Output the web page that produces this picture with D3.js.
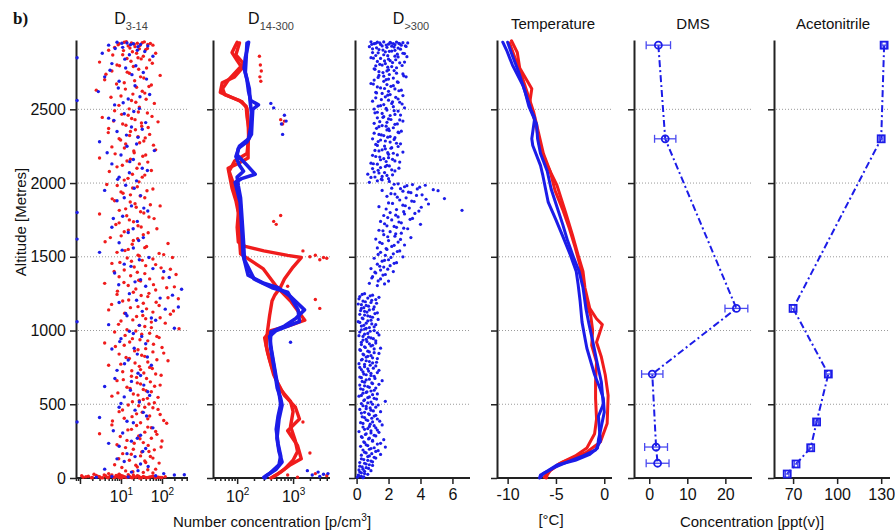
<!DOCTYPE html>
<html>
<head>
<meta charset="utf-8">
<script src="https://cdn.jsdelivr.net/npm/d3@7"></script>
<style>
  body { margin: 0; background: #fff; }
  text { font-family: "Liberation Sans", Arial, sans-serif; fill: #111; }
</style>
</head>
<body>
<svg id="chart" width="895" height="531"></svg>
<script>
// altitude ticks shared by every panel
const altTicks = [0, 500, 1000, 1500, 2000, 2500];

// D3-14 : [number concentration, altitude]
const d314Red = [
  [12,2955],[18,2950],[25,2948],[9,2945],[33,2952],[45,2940],[15,2930],[22,2925],[60,2935],[7,2920],[28,2910],[40,2905],[5,2900],[19,2890],[70,2880],[11,2870],[35,2860],[26,2850],[14,2845],[50,2835],
  [3,2820],[8,2800],[20,2790],[42,2780],[6,2760],[16,2745],[90,2730],[30,2720],[4,2700],[12,2680],[55,2665],[24,2650],[2.5,2630],[38,2610],[10,2590],[18,2560],[65,2540],[28,2515],
  [7,2490],[44,2475],[15,2460],[3.5,2445],[22,2430],[80,2415],[11,2400],[32,2385],[5,2370],[17,2350],[50,2330],[26,2315],[9,2300],[36,2285],[13,2265],[6,2245],[70,2225],[21,2205],[40,2190],[3,2170],[14,2150],[28,2130],[8,2110],[55,2085],[19,2060],[33,2040],[12,2020],
  [4.5,1990],[25,1975],[60,1960],[10,1940],[17,1920],[38,1900],[7,1880],[22,1860],[90,1845],[13,1825],[30,1805],[3,1790],[48,1770],[16,1750],[9,1730],[26,1710],[75,1690],[12,1670],[35,1650],[5.5,1630],[20,1610],[140,1590],[42,1570],[15,1550],[8,1530],[110,1515],[28,1505],
  [180,1495],[60,1485],[18,1470],[6,1455],[40,1440],[95,1425],[12,1410],[25,1395],[220,1380],[9,1365],[50,1350],[30,1335],[4,1320],[15,1305],[130,1290],[70,1275],[20,1260],[8,1245],[45,1230],[250,1215],[11,1200],[35,1185],[85,1170],[17,1155],[5,1140],[60,1125],[160,1110],[24,1095],[40,1080],[10,1065],[120,1050],[28,1035],[55,1020],[14,1005],
  [7,990],[32,975],[75,960],[19,945],[45,930],[4,915],[12,900],[100,885],[26,870],[60,855],[9,840],[38,825],[16,810],[140,795],[22,780],[5,765],[50,750],[30,735],[11,720],[70,705],[18,690],[42,675],[8,660],[25,645],[90,630],[14,615],[35,600],[55,585],[20,570],[6,555],[44,540],[28,525],[65,510],
  [15,495],[38,480],[80,465],[9,450],[24,435],[50,420],[12,405],[110,390],[30,375],[6,360],[45,345],[18,330],[70,315],[3,300],[27,285],[55,270],[14,255],[35,240],[8,225],[95,210],[20,195],[48,180],[11,165],[30,150],[60,135],[16,120],[40,105],[7,90],[25,75],[70,60],[13,48],[35,38],[5,30],
  [1.2,5],[1.6,12],[2,3],[2.5,18],[3,8],[3.6,2],[4.2,15],[5,6],[6,20],[7,4],[8,10],[9.5,2],[11,14],[13,6],[15,22],[18,3],[21,9],[25,16],[30,4],[35,11],[42,2],[50,7],[60,13],[75,5],[90,3],[2.2,25],[4.8,1],[10,18],[28,0],[16,12],
  [13.5,2958],[21,2942],[37,2957],[8.5,2937],[52,2946],[16.5,2915],[29,2932],[44,2912],[11.5,2898],[24,2880],[6.3,2868],[31,2842],[17.5,2826],[58,2812],[9.2,2795],[27,2772],[14.2,2752],[4.3,2738],[36,2712],[21.5,2694],[7.8,2672],[48,2655],[12.8,2637],[33,2622],[19.5,2603],[5.7,2582],[41,2568],[23,2548],[8.9,2527],[15.8,2503],
  [26.5,2482],[10.4,2466],[57,2452],[18.2,2438],[6.6,2421],[31.5,2407],[13.2,2392],[46,2377],[22.5,2361],[4.9,2342],[16.2,2322],[39,2306],[9.8,2292],[28.5,2273],[62,2257],[12.1,2238],[20.5,2217],[7.2,2198],[34,2182],[17,2161],[45,2142],[10.8,2121],[24.5,2100],[5.2,2078],[38,2054],[14.8,2032],[27.5,2008],
  [8.1,1983],[19.2,1966],[43,1948],[11.2,1931],[29.5,1912],[6.1,1893],[16.8,1872],[52,1853],[23.5,1836],[9.1,1815],[36,1797],[13.8,1778],[64,1759],[20.2,1738],[7.5,1719],[31,1702],[15.1,1681],[46,1663],[10.1,1642],[25.5,1623],[4.1,1602],[18.8,1585],[38,1562],[12.5,1542],[85,1523],[26,1511],
  [14.2,1492],[33,1476],[9.4,1462],[70,1447],[21,1431],[160,1416],[6.8,1401],[38,1386],[17.2,1371],[105,1356],[27,1341],[11.8,1326],[62,1311],[200,1296],[23,1282],[8.2,1267],[48,1252],[31,1237],[140,1222],[15.4,1207],[72,1192],[5.9,1177],[26,1162],[42,1147],[190,1132],[12.3,1117],[34,1102],[90,1087],[19.4,1072],[55,1057],[8.7,1042],[38,1027],[260,1012],
  [23,997],[50,982],[12.6,967],[85,952],[29,937],[16.3,922],[62,907],[7.3,892],[40,877],[21.5,862],[110,847],[32,832],[13.3,817],[75,802],[45,787],[9.9,772],[28,757],[58,742],[18.3,727],[36,712],[95,697],[24,682],[11.4,667],[52,652],[30,637],[66,622],[16.7,607],[41,592],[8.4,577],[26,562],[80,547],[35,532],[19,517],[48,502],
  [27,490],[60,476],[10.9,461],[33,446],[90,431],[18.6,416],[45,401],[6.2,386],[130,371],[24,356],[55,341],[14.7,326],[38,311],[75,296],[9.6,281],[29,266],[100,251],[21,236],[46,221],[12.9,206],[65,191],[32,176],[17.8,161],[52,146],[8.8,131],[38,116],[85,101],[23,86],[10.5,71],[45,56],[19.5,43],[60,34],[9,26],
  [1.4,8],[1.9,2],[2.8,11],[3.3,1],[4.5,6],[5.5,13],[6.6,3],[7.6,17],[8.8,5],[10.5,1],[12,9],[14,3],[16.5,7],[19,1],[23,5],[27,12],[32,2],[38,6],[46,3],[55,9],[68,2],[82,6],[100,3],[120,8],[1.1,15],[3.9,21],[9,24],[20,20]
];
const d314Blue = [
  [0.85,2850],[0.85,2560],[0.85,1800],[0.85,1620],[0.85,1060],[0.85,380],
  [8,2955],[14,2950],[20,2945],[30,2940],[5,2935],[45,2930],[11,2920],[25,2900],[3.5,2880],[16,2870],[60,2860],
  [6,2810],[13,2780],[35,2750],[4,2720],[9,2690],[22,2660],[2.8,2620],[50,2600],[15,2570],[7,2530],[28,2505],
  [12,2470],[5,2440],[40,2410],[18,2380],[8,2350],[26,2310],[3,2280],[14,2250],[65,2220],[10,2190],[20,2160],[6,2130],[33,2100],[16,2070],[9,2040],[24,2015],
  [13,1985],[4,1950],[30,1915],[8,1880],[18,1845],[45,1810],[11,1775],[25,1740],[6,1700],[15,1665],[35,1630],[9,1595],[20,1560],[3,1530],
  [28,1480],[12,1450],[60,1420],[7,1390],[150,1360],[22,1330],[40,1300],[300,1280],[16,1250],[90,1220],[9,1190],[250,1160],[33,1130],[14,1100],[70,1070],[5,1040],[200,1015],
  [20,980],[10,945],[40,910],[6,875],[25,840],[15,800],[55,765],[8,730],[30,695],[18,655],[4,620],[45,585],[12,550],[28,515],
  [9,480],[35,445],[3,410],[20,375],[60,340],[11,305],[25,270],[5,235],[40,200],[14,165],[8,130],[30,95],[4,60],[18,40],[200,20],[350,22],[6,10],[2.5,5],
  [10.5,2948],[17,2938],[26,2925],[7.2,2912],[38,2892],[12.4,2840],[23,2795],[5.4,2765],[18.5,2735],[42,2705],[8.6,2645],[29,2585],[11.3,2545],[20.5,2485],[6.7,2425],[33,2365],[13.6,2325],[24,2265],[4.6,2205],[16.4,2145],[44,2085],[8.3,2025],[21,1965],[12,1900],[36,1830],[6.5,1760],[19.8,1690],[27,1610],[10.7,1545],[48,1495],[17.5,1435],[110,1400],[30,1345],[8.8,1310],[180,1240],[24,1205],[120,1145],[13,1115],[55,1085],[28,1035],[16,995],[32,960],[9.3,925],[21,880],[44,820],[12.2,775],[26,710],[7.1,675],[36,630],[17,595],[50,560],[10,505],[22,460],[42,420],[14,385],[6.5,320],[30,290],[18,250],[9,215],[34,180],[22,145],[12,112],[46,78],[26,50],[110,30],[70,15],[15,7]
];

// D14-300 : profile traces and stray points
const d14RedA = [[100,2955],[90,2920],[81,2885],[100,2830],[123,2780],[90,2720],[54,2680],[50,2615],[80,2580],[123,2550],[150,2507],[157,2420],[160,2325],[157,2250],[157,2170],[100,2130],[69,2100],[75,2030],[81,1965],[95,1880],[105,1800],[100,1700],[105,1600],[140,1570],[300,1540],[800,1510],[1400,1495],[1000,1430],[700,1350],[590,1290],[470,1240],[420,1200],[380,1100],[350,1000],[330,900],[380,800],[450,700],[600,600],[900,520],[1000,450],[900,350],[1100,250],[1200,180],[1000,120],[700,60],[500,20],[400,0]];
const d14RedB = [[110,2950],[95,2870],[130,2810],[70,2700],[55,2640],[60,2600],[110,2560],[145,2520],[150,2450],[165,2350],[150,2200],[90,2150],[72,2080],[85,2000],[100,1900],[108,1760],[110,1620],[115,1520],[200,1460],[290,1420],[500,1300],[900,1200],[1620,1070],[800,1030],[400,1000],[310,950],[350,850],[420,750],[520,650],[700,560],[1100,480],[1300,400],[800,320],[1200,220],[1400,130],[900,90],[600,40],[450,10]];
const d14BlueA = [[160,2955],[150,2900],[140,2850],[133,2780],[150,2700],[160,2620],[175,2560],[240,2530],[190,2500],[185,2420],[180,2330],[150,2280],[105,2235],[100,2190],[150,2120],[210,2060],[120,2030],[92,2005],[100,1950],[113,1870],[118,1760],[123,1645],[128,1510],[157,1375],[300,1320],[540,1290],[900,1230],[1600,1140],[1100,1080],[700,1030],[400,990],[390,900],[420,830],[470,720],[520,610],[600,540],[635,495],[560,400],[515,270],[560,180],[635,108],[500,60],[420,40],[330,15],[316,0]];
const d14BlueB = [[150,2950],[145,2850],[140,2750],[165,2640],[170,2560],[180,2480],[175,2380],[160,2300],[110,2250],[95,2180],[110,2120],[130,2080],[100,2040],[105,1980],[115,1900],[120,1800],[125,1700],[130,1600],[135,1480],[200,1350],[420,1290],[800,1260],[1230,1140],[1300,1060],[500,1000],[380,960],[410,870],[450,780],[500,680],[560,580],[600,500],[540,420],[500,330],[540,230],[600,150],[560,90],[380,30],[300,5]];
const d14RedDots = [[250,2860],[260,2800],[270,2760],[255,2720],[265,2690],[600,2430],[650,2400],[700,2420],[1500,1540],[2500,1510],[3500,1495],[4000,1490],[3000,1480],[2000,1500],[600,1780],[450,1740],[500,1720],[800,1300],[2500,1210],[3000,1150],[1500,380],[2000,170],[800,20],[1200,5],[2500,30],[4000,15]];
const d14BlueDots = [[400,2540],[450,2510],[700,2460],[750,2420],[620,2400],[650,2330],[900,920],[2800,40],[3500,25],[4200,30],[3000,10],[2200,20],[1800,50]];

// D>300 : [number concentration, altitude]
const d300Blue = [
  [0.9,2958],[1.3,2955],[1.7,2957],[2.1,2954],[2.5,2956],[2.9,2952],[3.2,2950],[1.1,2945],[1.5,2940],[2.0,2942],[2.4,2938],[2.8,2935],[0.8,2925],[1.9,2920],[2.6,2915],[1.4,2905],[2.2,2895],[1.0,2885],[3.0,2878],[1.7,2870],[2.4,2860],[0.9,2850],[2.0,2840],[1.3,2825],[2.7,2815],[1.6,2800],[2.2,2790],[1.1,2775],[1.9,2760],[2.5,2745],[1.4,2730],[3.1,2720],[2.0,2705],[1.7,2690],[0.9,2675],[2.3,2660],[1.5,2645],[2.8,2630],[1.2,2615],[2.1,2600],[1.8,2585],[2.6,2570],[1.0,2555],[2.2,2540],[1.5,2525],[3.0,2510],[1.9,2495],[1.3,2480],[2.4,2465],[1.7,2450],[2.0,2435],[2.9,2420],[1.1,2405],[1.6,2390],[2.3,2375],[1.9,2360],[2.6,2345],[1.4,2330],[2.1,2315],[1.0,2300],[1.8,2285],[2.5,2270],[1.3,2255],[2.2,2240],[1.6,2225],[2.9,2210],[2.0,2195],[1.2,2180],[1.7,2165],[2.4,2150],[0.9,2135],[1.9,2120],[1.5,2105],[2.2,2090],[1.1,2075],[0.7,2060],[1.6,2045],[2.0,2030],[1.3,2015],[0.8,2005],
  [1.2,2948],[2.3,2946],[2.7,2944],[1.6,2930],[2.2,2928],[3.1,2926],[1.0,2910],[2.4,2900],[1.8,2890],[2.9,2880],[1.2,2865],[2.6,2855],[1.5,2845],[2.1,2830],[3.0,2820],[1.8,2810],[1.2,2795],[2.5,2782],[2.0,2768],[1.4,2755],[2.9,2740],[1.7,2725],[2.3,2712],[1.1,2698],[2.6,2683],[1.9,2668],[1.3,2652],[2.4,2638],[2.0,2622],[1.6,2608],[2.9,2593],[1.2,2578],[2.0,2562],[2.7,2548],[1.7,2532],[2.3,2518],[1.1,2502],[2.6,2488],[1.6,2472],[2.1,2458],[1.3,2442],[2.7,2428],[1.9,2412],[2.4,2398],[1.4,2382],[2.0,2368],[2.8,2352],[1.1,2338],[1.7,2322],[2.4,2308],[1.5,2292],[2.1,2278],[1.2,2262],[2.6,2248],[1.8,2232],[1.4,2218],[2.3,2202],[1.0,2188],[2.0,2172],[1.5,2158],[2.7,2142],[1.3,2128],[1.8,2112],[1.0,2098],[2.4,2082],[1.4,2068],[1.9,2052],[0.9,2038],[1.6,2022],
  [1.45,2951],[2.15,2949],[2.65,2947],[0.95,2941],[1.85,2936],[3.05,2931],[2.35,2922],[1.25,2917],[2.75,2908],[1.65,2902],[2.05,2893],[1.35,2883],[2.55,2874],[1.95,2864],[3.15,2857],[1.05,2847],[2.45,2836],[1.75,2828],[2.25,2817],[1.45,2805],[2.85,2797],[1.95,2786],[1.15,2771],[2.35,2763],[1.65,2749],[2.05,2736],[2.95,2727],[1.35,2716],[1.85,2701],[2.55,2686],[1.05,2671],[2.15,2656],[1.75,2641],[2.65,2626],[1.25,2611],[1.95,2596],[2.45,2581],[1.55,2566],[2.25,2551],[2.85,2536],[1.35,2521],[1.85,2506],[2.35,2491],[1.15,2476],[2.75,2461],[1.65,2446],[2.15,2431],[1.45,2416],[2.55,2401],[1.85,2386],[1.25,2371],[2.05,2356],[2.65,2341],[1.55,2326],[1.95,2311],[2.35,2296],[1.35,2281],[2.75,2266],[1.75,2251],[2.15,2236],[1.15,2221],[1.95,2206],[2.55,2191],[1.45,2176],[2.25,2161],[1.85,2146],[1.05,2131],[2.05,2116],[2.65,2101],[1.35,2086],[1.75,2071],[2.25,2056],[1.15,2041],[1.55,2026],[2.05,2011],
  [2.6,1995],[3.5,1990],[4.3,1985],[3.0,1975],[2.2,1965],[3.8,1960],[4.8,1955],[1.6,1950],[2.9,1945],[3.4,1935],[2.4,1925],[4.1,1920],[1.9,1910],[3.1,1900],[5.5,1895],[2.7,1885],[3.6,1875],[2.0,1865],[4.5,1858],[2.9,1850],[1.4,1840],[3.3,1830],[2.5,1820],[6.6,1815],[3.9,1810],[2.1,1800],[3.0,1790],[1.7,1780],[2.6,1770],[3.5,1760],[2.2,1750],[1.5,1740],[2.8,1730],[4.0,1720],[1.9,1710],[2.5,1700],
  [2.35,1992],[3.15,1982],[3.95,1972],[2.75,1962],[5.1,1948],[3.25,1938],[2.15,1928],[3.75,1916],[2.55,1904],[4.35,1890],[3.45,1878],[2.25,1862],[3.05,1846],[4.05,1836],[1.85,1824],[2.95,1806],[3.65,1794],[2.45,1782],[1.95,1766],[3.35,1754],[2.65,1736],[1.75,1724],[2.35,1706],[2.95,1694],[1.65,1676],[2.45,1656],[1.95,1636],[2.75,1618],[1.45,1598],[2.35,1578],[1.85,1556],[2.55,1536],[1.35,1516],[2.15,1496],[1.75,1476],[2.35,1456],[1.45,1436],[1.95,1416],[1.15,1396],[1.65,1376],[0.95,1356],[1.35,1336],[1.75,1316],
  [3.2,1690],[1.4,1680],[2.1,1670],[2.8,1660],[1.7,1650],[2.4,1640],[3.4,1630],[1.2,1620],[2.0,1610],[2.6,1600],[1.6,1590],[3.0,1580],[2.2,1570],[1.3,1560],[1.9,1550],[2.7,1540],[1.5,1530],[2.3,1520],[1.8,1510],[2.9,1500],[1.1,1490],[2.0,1480],[1.6,1470],[2.5,1460],[1.3,1450],[2.1,1440],[1.7,1430],[0.9,1420],[1.5,1410],[2.3,1400],[1.2,1390],[1.8,1380],[1.0,1365],[1.5,1350],[2.0,1335],[0.8,1320],[1.3,1305],
  [0.5,1250],[1.0,1240],[0.2,1230],[0.7,1220],[1.2,1210],[0.4,1200],[0.9,1190],[0.1,1180],[0.6,1170],[1.1,1160],[0.3,1150],[0.8,1140],[0.5,1130],[1.3,1120],[0.2,1110],[0.7,1100],[1.0,1090],[0.4,1080],[0.9,1070],[0.1,1060],[0.6,1050],[1.2,1040],[0.3,1030],[0.8,1020],[0.5,1010],[1.1,1000],[0.2,990],[0.7,980],[1.4,970],[0.4,960],[0.9,950],[0.6,940],[1.2,930],[0.3,920],[0.8,910],[1.0,900],[0.5,890],[1.5,880],[0.2,870],[0.7,860],[1.1,850],[0.4,840],[0.9,830],[0.6,820],[1.3,810],[0.3,800],[0.8,790],[1.0,780],[0.5,770],[1.2,760],[0.2,750],[0.7,740],[1.4,730],[0.4,720],[0.9,710],[0.6,700],[1.1,690],[0.3,680],[0.8,670],[1.6,660],[0.5,650],[1.0,640],[0.2,630],[0.7,620],[1.2,610],[0.4,600],[0.9,590],[0.6,580],[1.3,570],[0.3,560],[0.8,550],[1.1,540],[0.5,530],[1.8,520],[0.7,510],[1.0,500],[0.4,490],[1.2,480],[0.6,470],[0.9,460],[1.5,450],[0.3,440],[0.8,430],[1.1,420],[0.5,410],[1.3,400],[0.7,390],[1.0,380],[0.4,370],[1.6,360],[0.8,350],[1.2,340],[0.5,330],[0.9,320],[1.4,310],[0.6,300],[1.1,290],[0.3,280],[0.8,270],[1.7,260],[1.0,250],[0.5,240],[1.3,230],[0.7,220],[1.8,210],[0.9,200],[0.4,190],[1.2,180],[0.6,170],[1.5,160],[0.8,150],[1.1,140],[0.3,130],[0.7,120],[1.0,110],[0.5,100],[0.8,90],[0.2,80],[0.6,70],[0.4,60],[0.9,50],[0.2,40],[0.5,30],[0.1,20],[0.3,12],[0.05,5],[0.4,2],
  [0.35,1245],[0.85,1235],[1.4,1225],[0.15,1215],[0.95,1205],[0.55,1195],[1.25,1185],[0.3,1175],[0.75,1165],[0.45,1155],[1.05,1145],[0.25,1135],[0.65,1125],[1.15,1115],[0.5,1105],[0.85,1095],[0.35,1085],[1.35,1075],[0.7,1065],[0.2,1055],[0.95,1045],[0.45,1035],[1.1,1025],[0.6,1015],[0.3,1005],[0.85,995],[1.3,985],[0.5,975],[0.15,965],[0.75,955],[1.05,945],[0.4,935],[0.65,925],[1.2,915],[0.3,905],[0.9,895],[0.55,885],[1.1,875],[0.25,865],[0.8,855],[1.4,845],[0.45,835],[0.7,825],[1.0,815],[0.35,805],[0.6,795],[1.25,785],[0.15,775],[0.85,765],[0.5,755],[1.05,745],[0.3,735],[0.75,725],[1.3,715],[0.45,705],[0.9,695],[0.2,685],[1.15,675],[0.6,665],[0.35,655],[0.95,645],[1.4,635],[0.5,625],[0.8,615],[0.25,605],[1.1,595],[0.65,585],[0.4,575],[1.0,565],[0.15,555],[0.7,545],[1.25,535],[0.45,525],[0.9,515],[0.3,505],[1.35,495],[0.6,485],[0.85,475],[0.2,465],[1.05,455],[0.5,445],[0.75,435],[1.2,425],[0.35,415],[0.95,405],[0.6,395],[1.45,385],[0.25,375],[0.85,365],[1.1,355],[0.4,345],[0.7,335],[1.3,325],[0.15,315],[0.9,305],[0.55,295],[1.2,285],[0.35,275],[0.75,265],[1.0,255],[0.45,245],[1.5,235],[0.6,225],[0.25,215],[1.1,205],[0.8,195],[1.35,185],[0.5,175],[0.95,165],[0.3,155],[0.7,145],[1.2,135],[0.45,125],[0.9,115],[0.2,105],[0.6,95],[1.0,85],[0.35,75],[0.75,65],[0.15,55],[0.5,45],[0.3,35],[0.7,25],[0.15,15],[0.45,8]
];

// Temperature profiles [degC, altitude]
const tempRed1 = [[-9.6,2965],[-9.0,2885],[-8.75,2780],[-7.5,2640],[-7.7,2550],[-7.0,2370],[-6.7,2255],[-5.9,2120],[-4.9,1985],[-4.0,1800],[-3.3,1650],[-2.7,1510],[-2.2,1400],[-2.0,1290],[-1.5,1150],[-0.8,1080],[-0.2,1040],[-0.5,980],[-0.8,920],[-0.3,820],[0.1,700],[0.4,560],[0.3,370],[-0.4,245],[-1.8,176],[-4.3,108],[-5.6,50],[-5.9,20],[-6.0,0]];
const tempRed2 = [[-9.8,2950],[-9.3,2860],[-8.6,2740],[-8.0,2620],[-7.3,2480],[-6.8,2340],[-6.3,2200],[-5.6,2080],[-5.1,1950],[-4.3,1820],[-3.6,1690],[-3.0,1560],[-2.5,1440],[-2.2,1320],[-1.9,1200],[-1.4,1100],[-1.2,1000],[-1.3,900],[-0.8,786],[-0.9,650],[-0.9,540],[-0.8,400],[-1.0,300],[-1.8,203],[-3.0,150],[-4.6,100],[-5.8,40],[-6.2,5]];
const tempBlue1 = [[-10.5,2955],[-10.1,2900],[-9.5,2800],[-8.4,2660],[-7.6,2500],[-7.2,2440],[-7.5,2300],[-7.4,2255],[-6.6,2120],[-6.35,2050],[-5.8,1870],[-5.0,1750],[-4.3,1640],[-3.5,1510],[-2.9,1400],[-2.7,1310],[-2.5,1200],[-2.3,1057],[-2.0,950],[-1.8,880],[-1.0,700],[-0.4,600],[-0.1,540],[0.0,447],[-0.3,350],[-0.6,260],[-0.7,203],[-1.5,160],[-3.0,120],[-4.9,88],[-5.8,50],[-6.6,20],[-6.7,0]];
const tempBlue2 = [[-10.0,2955],[-9.6,2880],[-8.9,2760],[-8.2,2620],[-7.8,2520],[-7.0,2400],[-6.9,2300],[-6.6,2200],[-5.9,2080],[-5.5,1960],[-5.0,1860],[-4.3,1720],[-3.8,1610],[-3.2,1500],[-2.6,1400],[-2.2,1290],[-1.9,1150],[-1.6,1050],[-1.2,930],[-0.8,800],[-0.3,650],[-0.1,500],[-0.6,420],[-0.5,330],[-0.4,250],[-0.9,190],[-2.2,150],[-3.8,110],[-5.2,70],[-6.3,30],[-6.6,5]];

// DMS and acetonitrile [value, altitude, error]
const dms = [[2.4,2935,3.2],[4.2,2300,2.8],[22.9,1150,3.0],[0.8,705,2.8],[1.8,210,3.0],[2.2,100,3.0]];
const acetonitrile = [[132,2935,1.5],[130,2300,1.2],[70,1150,1.2],[94,705,1.5],[86,380,1.2],[82,205,1.2],[72,95,1.2],[66,27,1.2]];

const svg = d3.select('#chart');
const red = '#f01c1c', blue = '#1c1ce8', lightBlue = '#4a4af0';
const y = d3.scaleLinear().domain([0, 2970]).range([478, 40]);

svg.append('rect').attr('width', 895).attr('height', 531).attr('fill', '#fff');

// one panel = its own y axis, bottom axis and dotted grid
function drawPanel(x, x0, x1, opts) {
  const g = svg.append('g');
  g.selectAll('.grid').data(altTicks.slice(1)).join('line')
    .attr('x1', x0 + 2).attr('x2', x1)
    .attr('y1', d => y(d)).attr('y2', d => y(d))
    .attr('stroke', '#9a9a9a').attr('stroke-width', 1)
    .attr('stroke-dasharray', '1,2');

  const yAxis = d3.axisLeft(y).tickValues(altTicks).tickSize(6).tickSizeOuter(0).tickPadding(4)
    .tickFormat(opts.yLabels ? d => String(d) : () => '');
  const yg = g.append('g').attr('transform', `translate(${x0},0)`).call(yAxis);

  const xAxis = d3.axisBottom(x).tickSizeOuter(0).tickSize(6).tickPadding(5);
  if (opts.log) {
    const [a, b] = x.domain();
    const vals = [];
    for (let e = Math.floor(Math.log10(a)); e <= Math.ceil(Math.log10(b)); e++)
      for (let m = 1; m < 10; m++) { const v = m * Math.pow(10, e); if (v >= a && v <= b) vals.push(v); }
    xAxis.tickValues(vals).tickFormat(() => '');
  } else {
    xAxis.tickValues(opts.ticks).tickFormat(d => String(d));
  }
  const xg = g.append('g').attr('transform', `translate(0,${y(0)})`).call(xAxis);

  if (opts.log) {
    xg.selectAll('.tick').each(function(d) {
      const e = Math.log10(d);
      const major = Math.abs(e - Math.round(e)) < 1e-9;
      d3.select(this).select('line').attr('y2', major ? 6 : 3);
      if (major && opts.labels.includes(d)) {
        const t = d3.select(this).append('text').attr('y', 24).attr('text-anchor', 'middle')
          .attr('fill', '#111').style('font-size', '16px');
        t.append('tspan').text('10');
        t.append('tspan').attr('dy', -7).style('font-size', '10px').text(Math.round(e));
      }
    });
  }

  [yg, xg].forEach(a => {
    a.select('.domain').attr('stroke', '#222').attr('stroke-width', 2);
    a.selectAll('.tick line').attr('stroke', '#222').attr('stroke-width', 1.5);
    a.selectAll('.tick text').style('font-size', '16px').attr('fill', '#111');
  });
  xg.select('.domain').attr('d', `M${x0},0H${x1}`);
  return g;
}

function dots(g, x, data, color, r) {
  g.append('g').selectAll('circle').data(data).join('circle')
    .attr('cx', d => x(d[0])).attr('cy', d => y(d[1])).attr('r', r || 1.5)
    .attr('fill', color);
}

function trace(g, x, data, color, w) {
  const line = d3.line().x(d => x(d[0])).y(d => y(d[1]));
  g.append('path').datum(data).attr('d', line)
    .attr('fill', 'none').attr('stroke', color).attr('stroke-width', w)
    .attr('stroke-linejoin', 'round').attr('stroke-linecap', 'round');
}

// panel 1: D3-14
const x1s = d3.scaleLog().domain([0.8, 430]).range([76, 188]);
const p1 = drawPanel(x1s, 76, 188, { log: true, labels: [10, 100], yLabels: true });
dots(p1, x1s, d314Red, red, 1.7);
dots(p1, x1s, d314Blue, blue, 1.7);

// panel 2: D14-300
const x2s = d3.scaleLog().domain([37, 4570]).range([213, 330]);
const p2 = drawPanel(x2s, 213, 330, { log: true, labels: [100, 1000] });
dots(p2, x2s, d14RedDots, red, 1.7);
trace(p2, x2s, d14RedA, red, 3.4);
trace(p2, x2s, d14RedB, red, 3.4);
dots(p2, x2s, d14BlueDots, blue, 1.7);
trace(p2, x2s, d14BlueA, blue, 3.6);
trace(p2, x2s, d14BlueB, blue, 3.6);

// panel 3: D>300
const x3s = d3.scaleLinear().domain([-0.1, 7.1]).range([355, 470]);
const p3 = drawPanel(x3s, 355, 470, { ticks: [0, 2, 4, 6] });
dots(p3, x3s, d300Blue, blue, 1.6);

// panel 4: temperature
const x4s = d3.scaleLinear().domain([-11.1, 0.8]).range([497, 612]);
const p4 = drawPanel(x4s, 497, 612, { ticks: [-10, -5, 0] });
trace(p4, x4s, tempRed1, red, 3);
trace(p4, x4s, tempRed2, red, 3);
trace(p4, x4s, tempBlue1, blue, 3);
trace(p4, x4s, tempBlue2, blue, 3);

// panels 5/6: DMS and acetonitrile with error bars
function profile(g, x, data, marker) {
  const line = d3.line().x(d => x(d[0])).y(d => y(d[1]));
  g.append('path').datum(data).attr('d', line).attr('fill', 'none')
    .attr('stroke', blue).attr('stroke-width', 2).attr('stroke-dasharray', '7,3,2,3');
  const eb = g.append('g').attr('stroke', lightBlue).attr('stroke-width', 1.3);
  data.forEach(d => {
    const yy = y(d[1]), xa = x(d[0] - d[2]), xb = x(d[0] + d[2]);
    eb.append('line').attr('x1', xa).attr('x2', xb).attr('y1', yy).attr('y2', yy);
    eb.append('line').attr('x1', xa).attr('x2', xa).attr('y1', yy - 4).attr('y2', yy + 4);
    eb.append('line').attr('x1', xb).attr('x2', xb).attr('y1', yy - 4).attr('y2', yy + 4);
  });
  const m = g.append('g').attr('fill', 'none').attr('stroke', blue).attr('stroke-width', 1.8);
  if (marker === 'circle') {
    m.selectAll('circle').data(data).join('circle')
      .attr('cx', d => x(d[0])).attr('cy', d => y(d[1])).attr('r', 3.5);
  } else {
    m.selectAll('rect').data(data).join('rect')
      .attr('x', d => x(d[0]) - 3.5).attr('y', d => y(d[1]) - 3.5)
      .attr('width', 7).attr('height', 7);
  }
}

const x5s = d3.scaleLinear().domain([-4, 27]).range([634, 752]);
const p5 = drawPanel(x5s, 634, 752, { ticks: [0, 10, 20] });
profile(p5, x5s, dms, 'circle');

const x6s = d3.scaleLinear().domain([57, 136]).range([774, 890]);
const p6 = drawPanel(x6s, 774, 890, { ticks: [70, 100, 130] });
profile(p6, x6s, acetonitrile, 'square');

// titles
function subTitle(cx, main, sub) {
  const t = svg.append('text').attr('x', cx).attr('y', 24).attr('text-anchor', 'middle')
    .style('font-size', '16px');
  t.append('tspan').text(main);
  t.append('tspan').attr('dy', 6).style('font-size', '11px').attr('fill', '#444').text(sub);
}
subTitle(131, 'D', '3-14');
subTitle(271, 'D', '14-300');
subTitle(411, 'D', '>300');
[['Temperature', 553], ['DMS', 693], ['Acetonitrile', 833]].forEach(([s, cx]) => {
  svg.append('text').attr('x', cx).attr('y', 29).attr('text-anchor', 'middle')
    .style('font-size', '15px').text(s);
});

svg.append('text').attr('x', 13).attr('y', 24)
  .style('font-family', '"Liberation Serif", "Times New Roman", serif')
  .style('font-weight', 'bold').style('font-size', '17px').text('b)');

svg.append('text').attr('transform', 'translate(26,222) rotate(-90)')
  .attr('text-anchor', 'middle').style('font-size', '15px').text('Altitude [Metres]');

const xl = svg.append('text').attr('x', 272).attr('y', 527).attr('text-anchor', 'middle')
  .style('font-size', '15px');
xl.append('tspan').text('Number concentration [p/cm');
xl.append('tspan').attr('dy', -6).style('font-size', '10px').text('3');
xl.append('tspan').attr('dy', 6).text(']');

svg.append('text').attr('x', 551).attr('y', 525).attr('text-anchor', 'middle')
  .style('font-size', '15px').text('[°C]');
svg.append('text').attr('x', 752).attr('y', 527).attr('text-anchor', 'middle')
  .style('font-size', '15px').text('Concentration [ppt(v)]');
</script>
</body>
</html>
